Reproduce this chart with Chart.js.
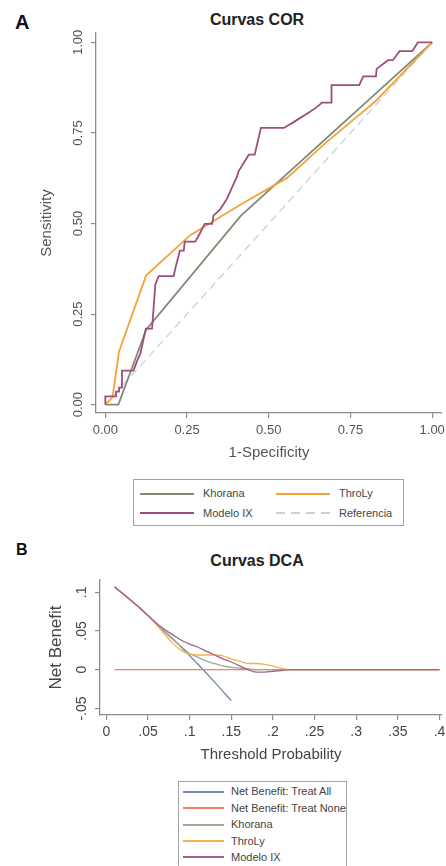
<!DOCTYPE html>
<html lang="es">
<head>
<meta charset="utf-8">
<title>Curvas COR y DCA</title>
<script src="https://cdn.jsdelivr.net/npm/chart.js@4.4.1/dist/chart.umd.min.js"></script>
<style>
  body { margin: 0; background: #fff; font-family: "Liberation Sans", Arial, sans-serif; }
  #hoja { position: relative; width: 446px; height: 866px; overflow: hidden; background: #fff; }
  canvas { position: absolute; left: 0; }
  .letra { position: absolute; font-weight: bold; color: #111; line-height: 1; }
  .titulo { position: absolute; font-weight: bold; font-size: 16px; color: #222; line-height: 1; transform: translateX(-50%); white-space: nowrap; }
  .leyenda { position: absolute; border: 1px solid #a3a3a3; background: #fff; box-sizing: border-box; }
  .item { position: absolute; white-space: nowrap; color: #444; line-height: 1; }
  .raya { position: absolute; height: 2px; }
</style>
</head>
<body>
<div id="hoja">
  <div class="letra" style="left:15px; top:12px; font-size:20px;">A</div>
  <div class="titulo" style="left:257px; top:12px;">Curvas COR</div>
  <canvas id="ChartCOR" width="446" height="470" style="top:0;width:446px;height:470px"></canvas>
  <div class="leyenda" id="leyendaCOR" style="left:133px; top:479px; width:271px; height:47px;"></div>

  <div class="letra" style="left:16px; top:542px; font-size:16px;">B</div>
  <div class="titulo" style="left:257px; top:553px;">Curvas DCA</div>
  <canvas id="ChartDCA" width="446" height="230" style="top:540px;width:446px;height:230px"></canvas>
  <div class="leyenda" id="leyendaDCA" style="left:178px; top:781px; width:169px; height:90px;"></div>
</div>
<script>
// curvas COR: 1-especificidad (x) y sensibilidad (y)
var corNombres = ["Khorana", "ThroLy", "Modelo IX", "Referencia"];
var khoranaX = [0, 0.04, 0.125, 0.415, 1];
var khoranaY = [0, 0, 0.207, 0.522, 1];
var throlyX = [0, 0.022, 0.042, 0.125, 0.26, 0.413, 0.556, 0.673, 0.826, 1];
var throlyY = [0, 0.02, 0.147, 0.357, 0.468, 0.552, 0.626, 0.722, 0.837, 1];
var modeloX = [0, 0, 0.033, 0.033, 0.042, 0.042, 0.051, 0.051, 0.086, 0.097,
  0.107, 0.124, 0.143, 0.153, 0.163, 0.209, 0.216, 0.228, 0.24, 0.243,
  0.275, 0.29, 0.304, 0.327, 0.331, 0.352, 0.372, 0.403, 0.408, 0.439,
  0.457, 0.476, 0.546, 0.576, 0.625, 0.648, 0.663, 0.692, 0.692, 0.777,
  0.789, 0.828, 0.83, 0.865, 0.88, 0.9, 0.939, 0.956, 1];
var modeloY = [0, 0.023, 0.023, 0.036, 0.036, 0.047, 0.047, 0.094, 0.094, 0.12,
  0.14, 0.21, 0.21, 0.332, 0.355, 0.355, 0.383, 0.425, 0.425, 0.45,
  0.45, 0.474, 0.499, 0.499, 0.522, 0.54, 0.568, 0.63, 0.645, 0.69,
  0.69, 0.764, 0.764, 0.78, 0.808, 0.822, 0.834, 0.834, 0.882, 0.882,
  0.906, 0.906, 0.927, 0.951, 0.951, 0.976, 0.976, 1, 1];
var referenciaX = [0, 1];
var referenciaY = [0, 1];
var corTicks = [0, 0.25, 0.5, 0.75, 1];
var corTickLabels = ["0.00", "0.25", "0.50", "0.75", "1.00"];

// curvas DCA: umbral de probabilidad (x) y beneficio neto (y)
var dcaNombres = ["Net Benefit: Treat All", "Net Benefit: Treat None", "Khorana", "ThroLy", "Modelo IX"];
var todosX = [0.01, 0.03, 0.05, 0.07, 0.09, 0.11, 0.13, 0.15];
var todosY = [0.107, 0.089, 0.07, 0.049, 0.029, 0.007, -0.016, -0.04];
var ningunoX = [0.01, 0.4];
var ningunoY = [0, 0];
var umbral = [0.01, 0.02, 0.03, 0.04, 0.05, 0.06, 0.07, 0.08, 0.09, 0.10, 0.11,
  0.12, 0.13, 0.14, 0.15, 0.16, 0.17, 0.18, 0.19, 0.20, 0.21, 0.22, 0.4];
var khoranaDca = [0.107, 0.098, 0.089, 0.08, 0.07, 0.06, 0.05, 0.04, 0.03, 0.021, 0.016,
  0.011, 0.008, 0.005, 0.003, 0.002, 0.001, 0, 0, 0, 0, 0, 0];
var throlyDca = [0.107, 0.098, 0.089, 0.08, 0.07, 0.058, 0.046, 0.034, 0.025, 0.02, 0.019,
  0.019, 0.019, 0.018, 0.014, 0.011, 0.008, 0.008, 0.007, 0.005, 0.002, 0, 0];
var modeloDca = [0.107, 0.098, 0.089, 0.08, 0.07, 0.06, 0.052, 0.045, 0.038, 0.033, 0.029,
  0.024, 0.019, 0.014, 0.01, 0.005, 0, -0.003, -0.003, -0.002, -0.001, 0, 0];
var dcaTicksX = [0, 0.05, 0.1, 0.15, 0.2, 0.25, 0.3, 0.35, 0.4];
var dcaTickLabelsX = ["0", ".05", ".1", ".15", ".2", ".25", ".3", ".35", ".4"];
var dcaTicksY = [-0.05, 0, 0.05, 0.1];
var dcaTickLabelsY = ["-.05", "0", ".05", ".1"];

var corColores = ["#7f8b74", "#f3a33b", "#9c4e7e", "#c3d3df"];
var dcaColores = ["#7187a8", "#f47c64", "#9eab94", "#f1b24f", "#a2628d"];

function puntos(xs, ys) {
  var lista = [];
  for (let i = 0; i < xs.length; i++) {
    lista.push({x: xs[i], y: ys[i]});
  }
  return lista;
}

// eje estilo Stata: ticks fijos, tamaño fijo y sin relleno extra
function eje(min, max, valores, etiquetas, tam, letra, color, titulo, tituloPad, tituloLetra, pad) {
  return {
    type: "linear", min: min, max: max,
    afterBuildTicks: function(s) { s.ticks = valores.map(function(v) { return {value: v}; }); },
    afterFit: function(s) {
      if (s.isHorizontal()) { s.height = tam; } else { s.width = tam; }
      s.paddingLeft = 0; s.paddingRight = 0; s.paddingTop = 0; s.paddingBottom = 0;
    },
    grid: {display: true, drawOnChartArea: false, drawTicks: true, tickLength: 5, color: "#8c8c8c", lineWidth: 1.2},
    border: {display: true, color: "#8c8c8c", width: 1.3},
    ticks: {
      autoSkip: false, padding: pad, color: color,
      font: {family: "'Liberation Sans', Arial", size: letra},
      callback: function(v, i) { return etiquetas[i]; }
    },
    title: {display: true, text: titulo, color: color, padding: tituloPad,
      font: {family: "'Liberation Sans', Arial", size: tituloLetra}}
  };
}

var ejeXcor = eje(-0.0285, 1.03, corTicks, corTickLabels, 57, 13, "#555", "1-Specificity", {top: 0, bottom: 8}, 15, 5);
ejeXcor.ticks.maxRotation = 0;
var ejeYcor = eje(-0.023, 1.026, corTicks, corTickLabels, 96, 13, "#555", "Sensitivity", {top: 38, bottom: 0}, 15, 0);
ejeYcor.ticks.minRotation = 90; ejeYcor.ticks.maxRotation = 90; ejeYcor.ticks.crossAlign = "center";

new Chart("ChartCOR", {
  type: "line",
  data: {
    datasets: [
      {label: corNombres[0], data: puntos(khoranaX, khoranaY), borderColor: corColores[0], borderWidth: 1.8, order: 2},
      {label: corNombres[1], data: puntos(throlyX, throlyY), borderColor: corColores[1], borderWidth: 1.8, order: 1},
      {label: corNombres[2], data: puntos(modeloX, modeloY), borderColor: corColores[2], borderWidth: 1.8, order: 0},
      {label: corNombres[3], data: puntos(referenciaX, referenciaY), borderColor: corColores[3], borderWidth: 1.3, borderDash: [8, 5], order: 3}
    ]
  },
  options: {
    responsive: false, animation: false,
    layout: {padding: {top: 33, right: 4, left: 0, bottom: 0}},
    elements: {point: {radius: 0}, line: {tension: 0, fill: false}},
    plugins: {legend: {display: false}, tooltip: {enabled: false}},
    scales: {x: ejeXcor, y: ejeYcor}
  }
});

var ejeXdca = eje(-0.0076, 0.403, dcaTicksX, dcaTickLabelsX, 55, 14, "#444", "Threshold Probability", {top: 0, bottom: 6}, 15, 4);
ejeXdca.ticks.maxRotation = 0;
var ejeYdca = eje(-0.0585, 0.1159, dcaTicksY, dcaTickLabelsY, 100, 14, "#444", "Net Benefit", {top: 46, bottom: 0}, 17, 1);
ejeYdca.ticks.minRotation = 90; ejeYdca.ticks.maxRotation = 90; ejeYdca.ticks.crossAlign = "center";

new Chart("ChartDCA", {
  type: "line",
  data: {
    datasets: [
      {label: dcaNombres[0], data: puntos(todosX, todosY), borderColor: dcaColores[0], borderWidth: 1.3, order: 4},
      {label: dcaNombres[1], data: puntos(ningunoX, ningunoY), borderColor: dcaColores[1], borderWidth: 1.3, order: 3},
      {label: dcaNombres[2], data: puntos(umbral, khoranaDca), borderColor: dcaColores[2], borderWidth: 1.3, order: 2},
      {label: dcaNombres[3], data: puntos(umbral, throlyDca), borderColor: dcaColores[3], borderWidth: 1.3, order: 1},
      {label: dcaNombres[4], data: puntos(umbral, modeloDca), borderColor: dcaColores[4], borderWidth: 1.3, order: 0}
    ]
  },
  options: {
    responsive: false, animation: false,
    layout: {padding: {top: 40, right: 4, left: 0, bottom: 0}},
    elements: {point: {radius: 0}, line: {cubicInterpolationMode: "monotone", fill: false}},
    plugins: {legend: {display: false}, tooltip: {enabled: false}},
    scales: {x: ejeXdca, y: ejeYdca}
  }
});

// leyendas en caja, como en Stata
function armarLeyenda(idCaja, nombres, colores, discontinuas, colX, filaY, largo, sepTexto, letra, columnas) {
  var caja = document.getElementById(idCaja);
  var html = "";
  for (let i = 0; i < nombres.length; i++) {
    var x = colX[i % columnas];
    var y = filaY[Math.floor(i / columnas)];
    var fondo = discontinuas[i]
      ? "repeating-linear-gradient(to right," + colores[i] + " 0 9px, transparent 9px 15px)"
      : colores[i];
    html += "<div class='raya' style='left:" + x + "px;top:" + Math.round(y - 1) + "px;width:" + largo +
      "px;background:" + fondo + "'></div>";
    html += "<div class='item' style='left:" + (x + sepTexto) + "px;top:" + (y - letra * 0.49) +
      "px;font-size:" + letra + "px'>" + nombres[i] + "</div>";
  }
  caja.innerHTML = html;
}

armarLeyenda("leyendaCOR", corNombres, corColores, [false, false, false, true], [6, 142], [13.5, 33], 54, 63, 11, 2);
armarLeyenda("leyendaDCA", dcaNombres, dcaColores, [false, false, false, false, false], [4], [9.5, 26, 42.5, 59, 75], 41, 48, 11, 1);
</script>
</body>
</html>
